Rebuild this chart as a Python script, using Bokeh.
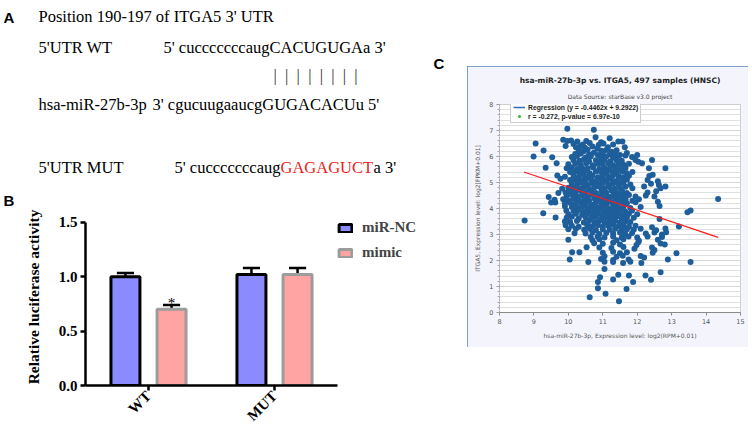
import math
from bokeh.plotting import figure
from bokeh.models import (Range1d, ColumnDataSource, Legend, LegendItem, Title, Label,
                          SingleIntervalTicker, FixedTicker, NumeralTickFormatter, Spacer)
from bokeh.layouts import row, column
from bokeh.embed import file_html
from bokeh.resources import INLINE

# ---------------- data ----------------
# Panel A (sequence alignment)
seq_title = "Position 190-197 of ITGA5 3' UTR"
row_labels = ["5'UTR WT", "hsa-miR-27b-3p", "5'UTR MUT"]
wt_seq = "5' cucccccccaugCACUGUGAa 3'"
mir_seq = "3' cgucuugaaucgGUGACACUu 5'"
mut_prefix = "5' cucccccccaug"
mut_site = "GAGAGUCT"
mut_suffix = "a 3'"
pairing = "\u2002".join(["|"] * 8)

# Panel B (luciferase assay)
groups = ["WT", "MUT"]
series_names = ["miR-NC", "mimic"]
nc_mean = [1.00, 1.02]
nc_sem = [0.035, 0.06]
mimic_mean = [0.70, 1.02]
mimic_sem = [0.04, 0.06]
b_yticks = [0.0, 0.5, 1.0, 1.5]

# Panel C (starBase correlation)
c_title = "hsa-miR-27b-3p vs. ITGA5, 497 samples (HNSC)"
c_subtitle = "Data Source: starBase v3.0 project"
c_xlabel = "hsa-miR-27b-3p, Expression level: log2(RPM+0.01)"
c_ylabel = "ITGA5, Expression level: log2[FPKM+0.01]"
reg_label = "Regression (y = -0.4462x + 9.2922)"
r_label = "r = -0.272, p-value = 6.97e-10"
reg_slope = -0.4462
reg_intercept = 9.2922
reg_x = [8.71, 14.35]
points = [
    (9.97, 7.07), (10.74, 7.03), (10.79, 6.74), (11.20, 6.70),
    (9.85, 6.64), (9.97, 6.60), (10.08, 6.62), (10.26, 6.58), (10.52, 6.60), (10.95, 6.55), (11.45, 6.58), (11.57, 6.58),
    (9.05, 6.50), (10.15, 6.48), (10.42, 6.46), (10.62, 6.52), (10.88, 6.44), (11.02, 6.50), (11.30, 6.46),
    (9.92, 6.40), (10.22, 6.36), (10.35, 6.40), (10.48, 6.34), (10.70, 6.38), (10.84, 6.30), (11.15, 6.36), (11.64, 6.36),
    (9.28, 6.23), (10.30, 6.24), (10.44, 6.20), (10.56, 6.26), (10.96, 6.22), (11.10, 6.25), (11.26, 6.18), (11.40, 6.24),
    (10.20, 6.10), (10.36, 6.12), (10.60, 6.08), (10.74, 6.14), (10.86, 6.06), (11.00, 6.12), (11.20, 6.08), (11.34, 6.10), (11.50, 6.06), (11.70, 6.13),
    (8.99, 6.00), (9.53, 5.97), (10.10, 5.98), (10.25, 6.02), (10.50, 5.96), (10.65, 6.00), (10.95, 5.95), (11.10, 6.00), (11.30, 5.96), (11.45, 6.02), (11.66, 6.04), (11.85, 5.98), (12.00, 6.06),
    (10.15, 5.86), (10.32, 5.84), (10.45, 5.88), (10.60, 5.82), (10.80, 5.86), (10.92, 5.80), (11.05, 5.88), (11.22, 5.82), (11.40, 5.86), (11.55, 5.84), (11.95, 5.87), (12.03, 5.80), (12.43, 5.87),
    (9.66, 5.74), (10.00, 5.70), (10.20, 5.72), (10.36, 5.68), (10.52, 5.74), (10.70, 5.66), (10.85, 5.72), (11.00, 5.70), (11.16, 5.74), (11.30, 5.66), (11.46, 5.72), (11.60, 5.68), (11.76, 5.72), (12.14, 5.74),
    (9.34, 5.57), (9.95, 5.55), (10.10, 5.58), (10.26, 5.52), (10.40, 5.56), (10.56, 5.54), (10.72, 5.58), (10.90, 5.52), (11.05, 5.56), (11.20, 5.54), (11.36, 5.58), (11.50, 5.52), (11.66, 5.56), (12.34, 5.55), (12.82, 5.55),
    (10.05, 5.40), (10.20, 5.42), (10.32, 5.38), (10.46, 5.42), (10.62, 5.36), (10.80, 5.42), (10.95, 5.40), (11.10, 5.38), (11.26, 5.42), (11.40, 5.38), (11.56, 5.42), (11.70, 5.36), (11.86, 5.40),
    (9.68, 5.27), (9.90, 5.22), (10.15, 5.26), (10.30, 5.22), (10.45, 5.28), (10.56, 5.22), (10.70, 5.26), (10.86, 5.20), (11.00, 5.26), (11.16, 5.22), (11.30, 5.28), (11.46, 5.24), (11.60, 5.20), (11.76, 5.26), (12.35, 5.25), (12.45, 5.30),
    (9.77, 5.14), (10.05, 5.10), (10.20, 5.12), (10.36, 5.08), (10.50, 5.12), (10.66, 5.10), (10.80, 5.06), (10.96, 5.12), (11.10, 5.08), (11.26, 5.12), (11.40, 5.06), (11.56, 5.10), (11.70, 5.12), (12.30, 5.10), (12.60, 5.05),
    (10.10, 4.96), (10.26, 4.94), (10.40, 4.98), (10.55, 4.92), (10.70, 4.96), (10.86, 4.94), (11.00, 4.98), (11.16, 4.92), (11.30, 4.96), (11.45, 4.94), (11.60, 4.98), (11.80, 4.92), (12.40, 4.95), (12.63, 4.90),
    (9.82, 4.76), (10.00, 4.80), (10.15, 4.82), (10.30, 4.78), (10.45, 4.82), (10.60, 4.76), (10.75, 4.80), (10.90, 4.84), (11.05, 4.78), (11.20, 4.82), (11.35, 4.76), (11.50, 4.80), (11.66, 4.84), (11.86, 4.78), (12.20, 4.85), (12.68, 4.78), (12.82, 4.85),
    (9.71, 4.60), (9.92, 4.62), (10.06, 4.66), (10.20, 4.62), (10.36, 4.68), (10.50, 4.62), (10.66, 4.66), (10.80, 4.60), (10.96, 4.66), (11.10, 4.62), (11.26, 4.68), (11.40, 4.62), (11.56, 4.66), (11.70, 4.60), (12.30, 4.62), (12.55, 4.66),
    (9.43, 4.44), (9.95, 4.50), (10.10, 4.52), (10.25, 4.48), (10.40, 4.52), (10.56, 4.46), (10.70, 4.52), (10.86, 4.48), (11.00, 4.52), (11.16, 4.46), (11.30, 4.50), (11.46, 4.54), (11.60, 4.48), (11.76, 4.52), (11.95, 4.46), (12.25, 4.50), (12.50, 4.46),
    (9.60, 4.34), (9.85, 4.36), (10.00, 4.32), (10.16, 4.38), (10.30, 4.34), (10.46, 4.36), (10.60, 4.32), (10.76, 4.38), (10.90, 4.34), (11.06, 4.36), (11.20, 4.32), (11.36, 4.38), (11.50, 4.34), (11.66, 4.36), (11.86, 4.30), (12.05, 4.36), (14.35, 4.37),
    (9.50, 4.23), (9.62, 4.23), (9.90, 4.20), (10.05, 4.22), (10.20, 4.18), (10.36, 4.22), (10.50, 4.20), (10.66, 4.16), (10.80, 4.22), (10.96, 4.20), (11.10, 4.18), (11.26, 4.22), (11.40, 4.18), (11.56, 4.22), (11.70, 4.20), (11.95, 4.24), (12.60, 4.26),
    (9.90, 4.09), (10.10, 4.06), (10.25, 4.04), (10.40, 4.08), (10.55, 4.02), (10.70, 4.06), (10.85, 4.04), (11.00, 4.08), (11.15, 4.02), (11.30, 4.06), (11.45, 4.04), (11.60, 4.08), (11.80, 4.02), (12.10, 4.06), (12.65, 4.10),
    (9.94, 3.92), (10.15, 3.90), (10.30, 3.94), (10.45, 3.88), (10.60, 3.92), (10.75, 3.90), (10.90, 3.94), (11.05, 3.88), (11.20, 3.92), (11.35, 3.90), (11.50, 3.94), (11.65, 3.88), (11.85, 3.92), (13.55, 3.92),
    (9.27, 3.82), (10.00, 3.78), (10.22, 3.80), (10.40, 3.76), (10.56, 3.82), (10.72, 3.78), (10.86, 3.80), (11.00, 3.76), (11.16, 3.82), (11.30, 3.78), (11.46, 3.80), (11.60, 3.76), (11.76, 3.80), (12.00, 3.78), (13.46, 3.86),
    (9.63, 3.65), (9.95, 3.64), (10.10, 3.68), (10.30, 3.62), (10.50, 3.66), (10.66, 3.64), (10.80, 3.68), (10.96, 3.62), (11.10, 3.66), (11.25, 3.64), (11.40, 3.68), (11.55, 3.62), (11.70, 3.66), (11.90, 3.64), (12.65, 3.60),
    (8.73, 3.54), (9.90, 3.50), (10.05, 3.48), (10.25, 3.52), (10.45, 3.46), (10.60, 3.52), (10.76, 3.48), (10.90, 3.52), (11.05, 3.46), (11.20, 3.50), (11.36, 3.52), (11.50, 3.46), (11.66, 3.50), (11.80, 3.48),
    (9.92, 3.36), (10.10, 3.34), (10.30, 3.30), (10.55, 3.36), (10.70, 3.32), (10.86, 3.36), (11.00, 3.30), (11.16, 3.34), (11.30, 3.38), (11.46, 3.32), (11.60, 3.36), (11.76, 3.30), (11.95, 3.34), (12.43, 3.28), (13.21, 3.31),
    (10.00, 3.20), (10.22, 3.22), (10.46, 3.18), (10.62, 3.22), (10.80, 3.16), (11.00, 3.20), (11.20, 3.18), (11.36, 3.22), (11.55, 3.16), (11.70, 3.20), (11.90, 3.18), (12.10, 3.22), (12.55, 3.16), (12.82, 3.23),
    (10.18, 3.05), (10.50, 3.04), (10.70, 3.08), (10.90, 3.02), (11.10, 3.06), (11.30, 3.04), (11.50, 3.08), (11.65, 3.02), (11.85, 3.06), (12.25, 3.04), (12.50, 3.08), (12.72, 3.00), (12.84, 3.09),
    (10.65, 2.90), (10.85, 2.92), (11.05, 2.88), (11.30, 2.92), (11.55, 2.88), (11.75, 2.92), (12.00, 2.88), (12.30, 2.92), (12.72, 2.90),
    (10.00, 2.80), (10.70, 2.78), (10.90, 2.82), (11.40, 2.78), (11.60, 2.82), (12.05, 2.76), (12.60, 2.80),
    (10.75, 2.66), (11.00, 2.64), (11.30, 2.68), (11.50, 2.62), (11.98, 2.60), (12.03, 2.70), (12.68, 2.65), (12.80, 2.62),
    (10.53, 2.51), (10.90, 2.50), (11.25, 2.48), (11.60, 2.52), (11.92, 2.45), (12.43, 2.50), (12.50, 2.40),
    (10.11, 2.32), (10.32, 2.32), (11.00, 2.30), (11.30, 2.34), (11.50, 2.28), (11.70, 2.32), (12.10, 2.17), (12.45, 2.30), (13.14, 2.28),
    (11.05, 2.16), (11.40, 2.14), (11.58, 2.18), (12.20, 2.12),
    (10.04, 2.04), (10.95, 2.06), (11.30, 2.02), (11.75, 2.04), (12.12, 1.90), (12.89, 2.04),
    (10.58, 1.94), (11.05, 1.95), (11.30, 1.94), (11.59, 1.90), (11.80, 1.95), (13.55, 1.94),
    (11.05, 1.67), (12.68, 1.55), (11.45, 1.45), (11.76, 1.42), (12.24, 1.42), (10.92, 1.36), (11.30, 1.27),
    (12.40, 1.26), (10.86, 1.17), (11.88, 1.17), (10.86, 0.93), (11.69, 0.90), (11.08, 0.72), (10.62, 0.59), (11.47, 0.43),
]

SERIF = "Liberation Serif"
SANS = "Liberation Sans"
DEJA = "DejaVu Sans"

# ---------------- layout geometry (pixels) ----------------
TOTAL_H = 432
LEFT_W = 446
A_H = 208
B_H = TOTAL_H - A_H
B_LEFT, B_BOTTOM = 85, 387 - A_H          # panel B frame left edge, y=0 line (inside panel B figure)
B_PX_PER_X, B_PX_PER_Y = 126.0, 110.0
C_LEFT, C_TOP, C_W, C_H = 467 - LEFT_W, 66, 281, 281
RIGHT_W = 752 - LEFT_W

# ---------------- Panel A (text canvas) ----------------
pa = figure(width=LEFT_W, height=A_H, x_range=Range1d(0, LEFT_W), y_range=Range1d(A_H, 0),
            x_axis_location=None, y_axis_location=None, output_backend="svg",
            toolbar_location=None, min_border=0, outline_line_color=None)
pa.xgrid.visible = False
pa.ygrid.visible = False
pa.grid.grid_line_color = None


def put(px, py, txt, font=SERIF, size="16.5px", style="normal", color="black", align="left"):
    pa.add_layout(Label(x=px, y=py, text=txt, text_font=font, text_font_size=size,
                        text_font_style=style, text_color=color, text_align=align,
                        text_baseline="alphabetic"))


put(3, 17, "A", font=SANS, size="15px", style="bold")
put(3, 200, "B", font=SANS, size="15px", style="bold")
put(433, 63, "C", font=SANS, size="15px", style="bold")
put(38, 16, seq_title)
put(38, 47, row_labels[0])
put(163, 47, wt_seq)
put(273, 75, pairing, color="#333333")
put(38, 104, row_labels[1])
put(152, 104, mir_seq)
put(38, 167, row_labels[2])
put(280, 167, mut_prefix, align="right")
put(280, 167, mut_site, color="#ee1c1c")
put(373, 167, mut_suffix)

# ---------------- Panel B ----------------
pb = figure(width=LEFT_W, height=B_H,
            x_range=Range1d(0, (LEFT_W - B_LEFT) / B_PX_PER_X), y_range=Range1d(0, B_BOTTOM / B_PX_PER_Y),
            output_backend="svg", toolbar_location=None,
            min_border_left=B_LEFT, min_border_right=0, min_border_top=0,
            min_border_bottom=B_H - B_BOTTOM)
pb.xgrid.visible = False
pb.ygrid.visible = False
pb.outline_line_color = None

centers = [i + 0.5 for i in range(len(groups))]
off = 0.183
cap = 0.068
src_b = ColumnDataSource(dict(
    x_nc=[c - off for c in centers], x_mi=[c + off for c in centers],
    nc=nc_mean, nc_top=[m + e for m, e in zip(nc_mean, nc_sem)],
    mimic=mimic_mean, mimic_top=[m + e for m, e in zip(mimic_mean, mimic_sem)],
    nc_l=[c - off - cap for c in centers], nc_r=[c - off + cap for c in centers],
    mi_l=[c + off - cap for c in centers], mi_r=[c + off + cap for c in centers]))
for xc, lo, hi, l, r in (("x_nc", "nc", "nc_top", "nc_l", "nc_r"),
                         ("x_mi", "mimic", "mimic_top", "mi_l", "mi_r")):
    pb.segment(x0=xc, y0=lo, x1=xc, y1=hi, source=src_b, line_color="black", line_width=2.5)
    pb.segment(x0=l, y0=hi, x1=r, y1=hi, source=src_b, line_color="black", line_width=2.5)
r_nc = pb.vbar(x="x_nc", top="nc", width=0.23, source=src_b,
               fill_color="#8b8bff", line_color="black", line_width=3)
r_mi = pb.vbar(x="x_mi", top="mimic", width=0.23, source=src_b,
               fill_color="#ffa3a3", line_color="#9c9c9c", line_width=3)
pb.add_layout(Label(x=centers[0] + off, y=mimic_mean[0] + mimic_sem[0] + 0.02, text="*",
                    text_font=SERIF, text_font_size="15px", text_align="center",
                    text_baseline="alphabetic", text_color="black"))

for ax in (pb.xaxis[0], pb.yaxis[0]):
    ax.axis_line_width = 2.5
    ax.axis_line_color = "black"
    ax.major_tick_line_width = 2.5
    ax.major_tick_line_color = "black"
    ax.major_tick_in = 0
    ax.major_tick_out = 5
    ax.minor_tick_line_color = None
    ax.major_label_text_font = SERIF
    ax.major_label_text_font_style = "bold"
    ax.major_label_text_font_size = "15px"
    ax.major_label_text_color = "black"
pb.yaxis.ticker = FixedTicker(ticks=b_yticks)
pb.yaxis.formatter = NumeralTickFormatter(format="0.0")
pb.yaxis.bounds = (b_yticks[0], b_yticks[-1])
pb.yaxis.major_label_standoff = 3
pb.yaxis.axis_label = "Relative luciferase activity"
pb.yaxis.axis_label_text_font = SERIF
pb.yaxis.axis_label_text_font_style = "bold"
pb.yaxis.axis_label_text_font_size = "15.5px"
pb.yaxis.axis_label_text_color = "black"
pb.yaxis.axis_label_standoff = 14
pb.xaxis.ticker = FixedTicker(ticks=centers)
pb.xaxis.major_label_overrides = {c: g for c, g in zip(centers, groups)}
pb.xaxis.bounds = (0, len(groups))
pb.xaxis.major_label_orientation = math.pi / 4
pb.xaxis.major_label_standoff = 3

leg_b = Legend(items=[LegendItem(label=series_names[0], renderers=[r_nc]),
                      LegendItem(label=series_names[1], renderers=[r_mi])],
               location=(337 - B_LEFT, (387 - 263)), margin=0, padding=4, spacing=8,
               glyph_width=16, glyph_height=10, label_height=12, label_standoff=9,
               label_text_font=SERIF, label_text_font_style="bold", label_text_font_size="15px",
               border_line_color=None, background_fill_alpha=0)
pb.add_layout(leg_b)

# ---------------- Panel C ----------------
pc = figure(width=C_W, height=C_H, x_range=Range1d(8, 15), y_range=Range1d(0, 8), title=None,
            output_backend="svg", toolbar_location=None,
            min_border_left=32, min_border_right=8, min_border_top=38, min_border_bottom=35,
            background_fill_color="white", border_fill_color="#f4f5fc")
pc.styles = {"outline": "1px solid #5a86c0", "outline-offset": "-1px"}
pc.add_layout(Title(text=c_subtitle, align="center", text_font=DEJA, text_font_size="6px",
                    text_font_style="normal", text_color="#444444", standoff=9), "above")
pc.add_layout(Title(text=c_title, align="center", text_font=DEJA, text_font_size="7.5px",
                    text_font_style="bold", text_color="#222222", standoff=4), "above")

pc.ygrid.ticker = SingleIntervalTicker(interval=1, num_minor_ticks=5)
pc.ygrid.grid_line_color = "#d6d6d6"
pc.ygrid.minor_grid_line_color = "#e0e0e0"
pc.xgrid.visible = False
pc.outline_line_color = "#cfcfcf"

pc.yaxis.ticker = SingleIntervalTicker(interval=1, num_minor_ticks=5)
pc.xaxis.ticker = SingleIntervalTicker(interval=1)
for ax in (pc.xaxis[0], pc.yaxis[0]):
    ax.axis_line_color = "#8a8a8a"
    ax.major_tick_line_color = "#8a8a8a"
    ax.major_tick_in = 0
    ax.major_tick_out = 3
    ax.minor_tick_in = 0
    ax.minor_tick_out = 2
    ax.minor_tick_line_color = "#a8a8a8"
    ax.major_label_text_font = DEJA
    ax.major_label_text_font_size = "6.5px"
    ax.major_label_text_color = "#555555"
    ax.major_label_standoff = 3
    ax.axis_label_text_font = DEJA
    ax.axis_label_text_font_size = "6px"
    ax.axis_label_text_font_style = "normal"
    ax.axis_label_text_color = "#555555"
    ax.axis_label_standoff = 5
pc.yaxis.axis_line_dash = "1 2"
pc.xaxis.minor_tick_line_color = None
pc.yaxis.axis_label = c_ylabel
pc.xaxis.axis_label = c_xlabel

pc.scatter(x=[p[0] for p in points], y=[p[1] for p in points], size=6,
           fill_color="#1d5e9b", line_color=None)
pc.line(x=reg_x, y=[reg_slope * x + reg_intercept for x in reg_x], line_color="#ff1a1a", line_width=1.2)
# legend proxies (kept outside the visible y range so only their legend swatches show)
leg_line = pc.line(x=reg_x, y=[-5, -5], line_color="#2a6cc0", line_width=1.5)
leg_dot = pc.scatter(x=[reg_x[0]], y=[-5], size=5, fill_color="#3cb83c", line_color=None)
leg_c = Legend(items=[LegendItem(label=reg_label, renderers=[leg_line]),
                      LegendItem(label=r_label, renderers=[leg_dot])],
               location=(11, 312 - 123), padding=2, spacing=1, margin=0,
               glyph_width=12, glyph_height=8, label_height=8, label_standoff=3,
               label_text_font=SANS, label_text_font_style="bold", label_text_font_size="6.8px",
               label_text_color="#222222", border_line_color="#9a9a9a", background_fill_color="white")
pc.add_layout(leg_c)

left = column(row(pa, width=LEFT_W, height=A_H), row(pb, width=LEFT_W, height=B_H),
              width=LEFT_W, height=TOTAL_H)
c_row = row(Spacer(width=C_LEFT, height=C_H), pc, Spacer(width=RIGHT_W - C_LEFT - C_W, height=C_H),
            width=RIGHT_W, height=C_H)
right = column(Spacer(width=RIGHT_W, height=C_TOP), c_row,
               Spacer(width=RIGHT_W, height=TOTAL_H - C_TOP - C_H), width=RIGHT_W, height=TOTAL_H)
root = row(left, right, width=LEFT_W + RIGHT_W, height=TOTAL_H)

open("out.html", "w").write(file_html(root, INLINE))
